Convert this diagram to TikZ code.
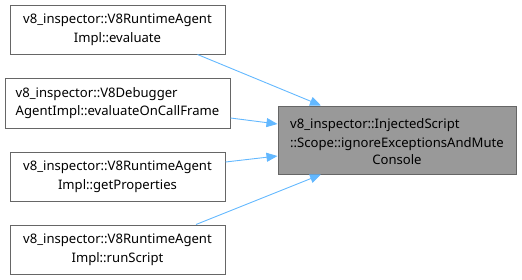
\documentclass[tikz,border=0pt]{standalone}
\usepackage{fontspec}
\setmainfont{Noto Sans}
\usetikzlibrary{arrows.meta}
\definecolor{edgeblue}{HTML}{63B8FF}
\definecolor{boxline}{HTML}{666666}
\definecolor{boxfill}{HTML}{999999}
\tikzset{
  fnbox/.style={draw=boxline, line width=1pt, fill=white, rectangle, inner sep=0pt,
    align=center, font=\fontsize{13.1}{18.5}\selectfont},
  focusbox/.style={fnbox, fill=boxfill},
  calledge/.style={draw=edgeblue, line width=0.9pt,
    -{Triangle[length=11pt,width=9pt]}}
}
\begin{document}
\begin{tikzpicture}[x=1pt,y=-1pt]
\useasboundingbox (0,0) rectangle (522,279);
\node[fnbox, minimum width=215pt, minimum height=49pt] (eval) at (117.5,29.5)
  {v8\_inspector::V8RuntimeAgent\\Impl::evaluate};
\node[fnbox, align=left, minimum width=225pt, minimum height=50pt] (frame) at (117.5,103)
  {v8\_inspector::V8Debugger\\AgentImpl::evaluateOnCallFrame};
\node[fnbox, minimum width=215pt, minimum height=49pt] (props) at (117.5,176.5)
  {v8\_inspector::V8RuntimeAgent\\Impl::getProperties};
\node[fnbox, minimum width=215pt, minimum height=49pt] (run) at (117.5,249.5)
  {v8\_inspector::V8RuntimeAgent\\Impl::runScript};
\node[focusbox, minimum width=238pt, minimum height=68pt] (mute) at (397,140)
  {\begin{tabular}{@{}l@{}}v8\_inspector::InjectedScript\\[0.5pt]::Scope::ignoreExceptionsAndMute\end{tabular}\\Console};

\draw[calledge] ([xshift=80pt]eval.south) -- ([xshift=-76pt]mute.north);
\draw[calledge] ([yshift=-15pt]frame.east) -- ([yshift=16pt]mute.west);
\draw[calledge] ([yshift=14.5pt]props.east) -- ([yshift=-16pt]mute.west);
\draw[calledge] ([xshift=78.5pt]run.north) -- ([xshift=-76pt]mute.south);
\end{tikzpicture}
\end{document}
